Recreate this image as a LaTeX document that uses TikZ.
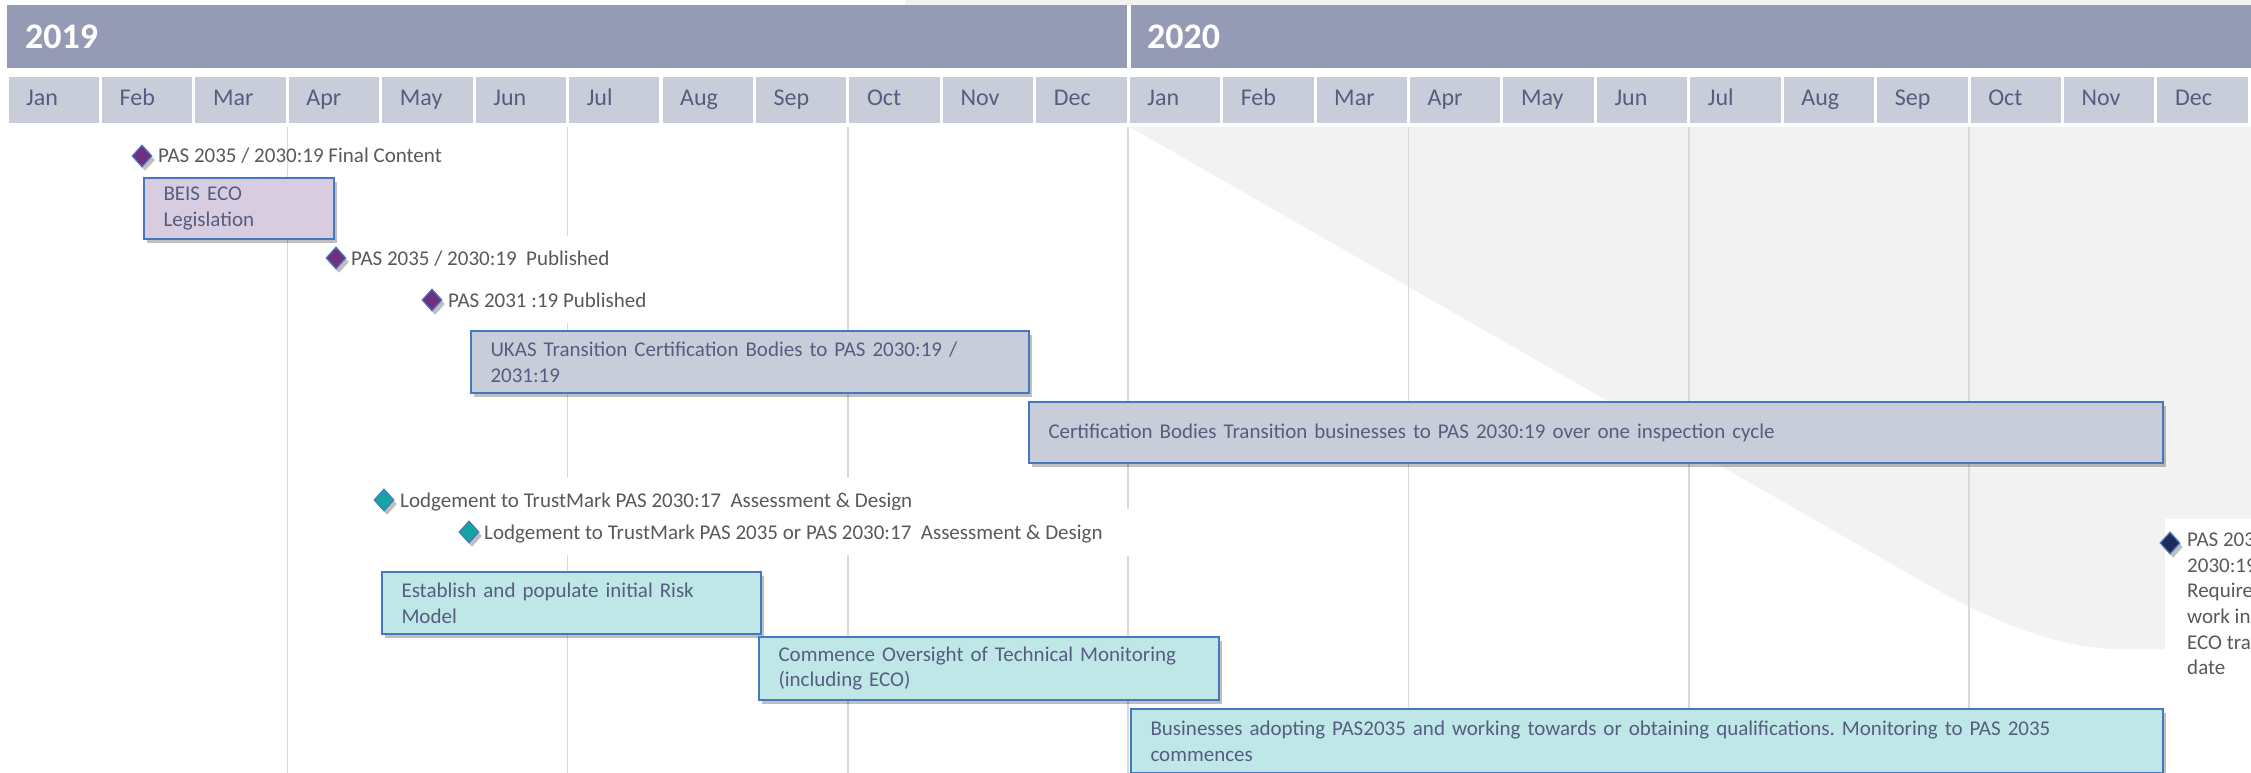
\documentclass[tikz,border=0pt]{standalone}
\usepackage{fontspec}
\setmainfont{Carlito}
\usetikzlibrary{shapes.geometric,shadows}
\definecolor{bandcol}{RGB}{150,155,181}
\definecolor{monthfill}{RGB}{201,205,217}
\definecolor{monthtext}{RGB}{85,94,128}
\definecolor{graybox}{RGB}{201,205,217}
\definecolor{purplebox}{RGB}{216,204,224}
\definecolor{tealbox}{RGB}{191,231,231}
\definecolor{boxborder}{RGB}{70,120,190}
\definecolor{boxtext}{RGB}{85,94,128}
\definecolor{labeltext}{RGB}{89,89,89}
\definecolor{purpledia}{RGB}{112,48,128}
\definecolor{tealdia}{RGB}{23,163,163}
\definecolor{navydia}{RGB}{28,45,90}
\definecolor{gridcol}{RGB}{214,216,226}
\definecolor{bggray}{RGB}{242,242,242}
\definecolor{topshade}{RGB}{243,243,243}
\frenchspacing
\begin{document}
\begin{tikzpicture}[x=1pt,y=-1pt,
  softshadow/.style={drop shadow={shadow xshift=3pt,shadow yshift=-4pt,opacity=0.25,fill=black}},
  taskbox/.style={draw=boxborder,line width=2pt,anchor=north west,inner xsep=19.5pt,inner ysep=0pt,
    align=left,font=\fontsize{21}{25.6}\selectfont,text=boxtext,softshadow},
  mlabel/.style={anchor=west,fill=white,inner xsep=3pt,inner ysep=0pt,minimum height=45pt,
    text height=14pt,text depth=0pt,font=\fontsize{21}{25.6}\selectfont,text=labeltext},
  dia/.style={diamond,draw=boxborder,line width=1.2pt,minimum width=20pt,minimum height=22pt,
    inner sep=0pt,softshadow},
  monthlabel/.style={anchor=west,inner sep=0pt,text height=16pt,text depth=0pt,
    font=\fontsize{24}{28}\selectfont,text=monthtext},
  yearlabel/.style={anchor=west,inner sep=0pt,font=\fontsize{36}{40}\selectfont\bfseries,text=white},
  gridline/.style={draw=gridcol,line width=1.5pt}
]
\useasboundingbox (0,0) rectangle (2251,773);
\fill[white] (0,0) rectangle (2251,773);
\fill[topshade] (905,0) rectangle (2251,5);

% background shaded region
\fill[bggray] (1130,127) -- (2251,127) -- (2251,519) -- (2165,519) -- (2165,649) -- (2121,649)
  .. controls (2060,649) and (1995,623) .. (1925,583) -- cycle;

% grid lines
\foreach \k in {3,6,9,12,15,18,21} {
  \pgfmathsetmacro\gx{7+93.43*\k}
  \draw[gridline] (\gx,127) -- (\gx,773);
}

% header bands
\fill[bandcol] (7,5) rectangle (1127,68);
\fill[bandcol] (1131,5) rectangle (2251,68);
\node[yearlabel] (y2019) at (25,37) {2019};
\node[yearlabel] (y2020) at (1147,37) {2020};

% months
\foreach \m [count=\i from 0] in {Jan,Feb,Mar,Apr,May,Jun,Jul,Aug,Sep,Oct,Nov,Dec,Jan,Feb,Mar,Apr,May,Jun,Jul,Aug,Sep,Oct,Nov,Dec} {
  \pgfmathsetmacro\xl{7+93.43*\i}
  \fill[monthfill] (\xl+1.5,77) rectangle (\xl+91.9,123);
  \node[monthlabel] (m\i) at (\xl+19,98) {\m};
}

% milestone labels
\node[mlabel,fill=none] (l1) at (155,156) {PAS 2035 / 2030:19 Final Content};
\node[mlabel] (l2) at (348,258) {PAS 2035 / 2030:19~ Published};
\node[mlabel] (l3) at (445,300) {PAS 2031 :19 Published};
\node[mlabel] (t1) at (397,500) {Lodgement to TrustMark PAS 2030:17~ Assessment \& Design};
\fill[white] (1100,509) rectangle (1140,556);
\node[mlabel] (t2) at (481,532) {Lodgement to TrustMark PAS 2035 or PAS 2030:17~ Assessment \& Design};

% task boxes
\node[taskbox,fill=purplebox,minimum width=190pt,minimum height=61pt,text width=151pt] (beis) at (143,177) {BEIS ECO\\Legislation};
\node[taskbox,fill=graybox,minimum width=558pt,minimum height=62pt,text width=519pt] (ukas) at (470,330) {UKAS Transition Certification Bodies to PAS 2030:19 /\\2031:19};
\node[taskbox,fill=graybox,minimum width=1134pt,minimum height=61pt,text width=1095pt] (cert) at (1028,401) {Certification Bodies Transition businesses to PAS 2030:19 over one inspection cycle};
\node[taskbox,fill=tealbox,minimum width=379pt,minimum height=62pt,text width=340pt] (risk) at (381,571) {Establish and populate initial Risk\\Model};
\node[taskbox,fill=tealbox,minimum width=460pt,minimum height=63pt,text width=421pt] (oversight) at (758,636) {Commence Oversight of Technical Monitoring\\(including ECO)};
\node[taskbox,fill=tealbox,minimum width=1032pt,minimum height=64pt,text width=993pt] (business) at (1130,708) {Businesses adopting PAS2035 and working towards or obtaining qualifications. Monitoring to PAS 2035\\commences};

% diamonds
\node[dia,fill=purpledia] (d1) at (142,156) {};
\node[dia,fill=purpledia] (d2) at (336,258) {};
\node[dia,fill=purpledia] (d3) at (432,300) {};
\node[dia,fill=tealdia] (d4) at (384,500) {};
\node[dia,fill=tealdia] (d5) at (469,532) {};

% final milestone (clipped at the right edge, as in the reference)
\begin{scope}
\clip (0,0) rectangle (2251,773);
\fill[white] (2165,519) rectangle (2251,700);
\node[dia,fill=navydia] (d6) at (2170,543) {};
\node[anchor=north west,inner sep=0pt,align=left,font=\fontsize{21}{25.6}\selectfont,text=labeltext] (fin) at (2187,532) {PAS 2035 /\\2030:19\\Required for\\work in\\ECO transition\\date};
\end{scope}
\end{tikzpicture}
\end{document}
